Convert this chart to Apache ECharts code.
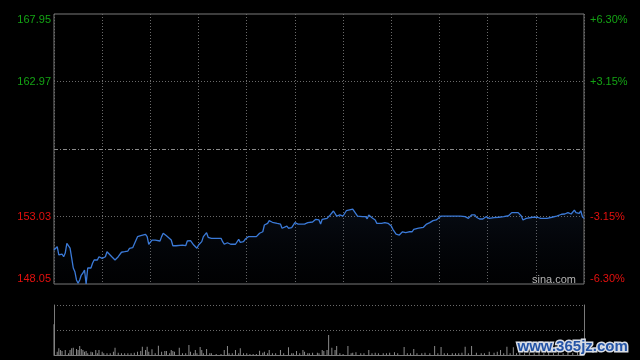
<!DOCTYPE html>
<html>
<head>
<meta charset="utf-8">
<script src="https://cdn.jsdelivr.net/npm/echarts@6/dist/echarts.min.js"></script>
<style>
html,body{margin:0;padding:0;background:#000;}
#c{width:640px;height:360px;}
</style>
</head>
<body>
<div id="c"></div>
<script>
// ---- data (minutes from open, price) ----
const times = [0,2,3,4,5,6,7,8,9,10,11,12,13,14,15,16,17,18,19,20,21,22,23,24,25,26,27,28,30,32,33,34,36,38,39,40,42,44,46,47,49,50,52,54,55,57,58,59,61,63,64,66,67,68,70,71,73,74,76,80,82,83,85,86,87,89,90,92,93,95,96,98,104,105,106,108,110,113,114,115,116,118,119,121,126,128,130,131,133,134,136,139,141,142,143,145,146,148,149,150,152,156,158,161,163,165,166,167,170,172,174,175,176,178,180,182,183,186,187,189,192,194,195,196,198,200,201,204,206,208,210,211,213,215,216,217,219,221,223,224,227,230,232,234,236,238,239,241,245,246,249,253,256,258,260,262,263,265,267,269,270,271,274,277,280,283,285,289,291,292,294,295,298,301,303,304,307,310,313,316,318,320,322,324,325,327,328,329,330];
const prices = [150.56,150.80,150.19,150.06,150.26,150.06,150.33,151.05,150.92,150.70,149.97,149.23,148.96,148.35,148.10,148.35,148.71,148.86,149.08,148.06,149.23,149.33,149.23,149.58,149.82,149.69,149.82,150.06,149.94,150.06,150.43,150.43,150.06,149.82,149.69,150.06,150.39,150.43,150.48,150.68,150.73,150.80,151.54,151.61,151.61,151.71,151.54,150.98,151.29,151.29,151.42,151.22,151.54,151.79,151.61,151.71,151.29,150.87,150.87,150.92,150.87,151.22,151.24,151.24,150.92,150.68,150.92,151.17,151.54,151.83,151.49,151.42,151.42,151.17,150.98,151.09,150.98,150.98,151.09,151.34,151.12,151.17,151.34,151.54,151.54,151.79,151.90,152.40,152.52,152.72,152.60,152.52,152.47,152.16,152.08,152.32,152.16,152.20,152.16,152.57,152.47,152.47,152.57,152.62,152.82,152.77,152.47,152.82,152.89,153.14,153.43,153.31,153.06,153.14,153.06,153.45,153.56,153.56,153.50,153.06,153.01,153.01,152.86,153.14,152.94,152.77,152.52,152.52,152.57,152.52,152.32,152.08,151.73,151.66,151.54,151.90,151.83,151.90,151.90,152.08,152.16,152.23,152.47,152.57,152.72,152.77,152.89,153.06,153.06,152.97,153.06,153.06,153.01,152.89,153.14,153.14,152.97,152.84,152.84,153.01,153.06,152.89,152.94,152.97,153.01,153.08,153.31,153.31,153.06,152.77,152.89,153.01,152.97,152.97,152.89,152.77,152.89,152.97,153.06,153.19,153.21,153.31,153.21,153.50,153.31,153.26,153.45,153.01,152.89];
const volTimes = [0,2,3,4,5,7,9,10,11,12,14,15,16,17,18,19,20,21,23,24,26,27,28,30,31,33,35,37,38,40,42,44,46,48,50,52,54,55,57,58,59,61,63,65,67,69,70,72,73,74,75,78,80,82,84,85,87,88,89,91,92,93,95,97,98,101,104,106,108,109,111,113,115,116,118,120,122,124,126,128,130,131,133,134,136,138,141,143,146,148,149,151,153,155,156,158,159,161,164,165,167,168,170,171,173,175,176,178,180,183,185,186,188,191,193,196,198,200,202,205,207,209,212,214,218,220,222,224,226,229,231,234,237,239,241,243,245,248,250,252,254,256,258,260,263,266,268,271,274,276,278,280,282,284,286,288,290,293,296,299,302,305,308,311,314,317,320,323,326,328,330];
const volValues = [92,10,20,15,12,15,5,15,20,22,18,15,27,18,15,10,12,5,10,8,15,5,15,10,5,5,5,10,22,7,5,5,5,5,7,10,12,25,15,25,10,17,5,28,10,12,12,5,15,12,10,22,5,5,30,10,5,15,5,24,15,5,18,5,5,3,3,15,27,5,5,15,5,20,5,5,3,3,3,13,7,10,5,15,5,5,15,5,23,5,5,12,5,15,10,5,5,7,7,5,15,12,15,60,22,15,27,5,3,27,5,7,8,5,5,15,5,7,5,5,5,7,8,5,24,5,5,18,5,5,7,5,27,5,24,5,5,5,5,5,7,25,5,27,7,5,5,10,7,10,15,5,25,5,23,5,7,5,10,5,12,5,8,5,15,5,10,7,12,20,15];
const priceMin = 148.05, priceMax = 167.95, prevClose = 158.00;
const priceLabels = ['148.05','153.03','','162.97','167.95'];
const pctLabels = ['-6.30%','-3.15%','','+3.15%','+6.30%'];
const labelColors = ['#e4100e','#e4100e','#888','#14a314','#14a314'];

const lineData = times.map((t, i) => [t, prices[i]]);
const volData = volTimes.map((t, i) => [t, volValues[i]]);

const chart = echarts.init(document.getElementById('c'), null, {renderer: 'canvas'});
const dotted = {color: '#6a6a6a', width: 1, type: [1, 2]};
chart.setOption({
  backgroundColor: '#000',
  animation: false,
  grid: [
    {left: 54, top: 14, width: 530, height: 270, show: true, borderColor: '#7a7a7a', borderWidth: 1},
    {left: 54, top: 305, width: 530, height: 50}
  ],
  xAxis: [
    {gridIndex: 0, type: 'value', min: 0, max: 330, interval: 30,
     axisLabel: {show: false}, axisTick: {show: false}, axisLine: {show: false},
     splitLine: {show: true, lineStyle: dotted}},
    {gridIndex: 1, type: 'value', min: 0, max: 330, interval: 30,
     axisLabel: {show: false}, axisTick: {show: false},
     axisLine: {show: true, lineStyle: {color: '#7a7a7a', width: 1}},
     splitLine: {show: false}}
  ],
  yAxis: [
    {gridIndex: 0, type: 'value', min: priceMin, max: priceMax, show: false},
    {gridIndex: 0, type: 'value', position: 'left', min: -6.3, max: 6.3, interval: 3.15,
     axisLine: {show: false}, axisTick: {show: false},
     axisLabel: {show: true, margin: 3, fontFamily: 'Liberation Sans, Arial, sans-serif', fontSize: 11,
       formatter: (v, i) => priceLabels[i],
       color: (v, i) => labelColors[i],
       verticalAlignMinLabel: 'bottom', verticalAlignMaxLabel: 'top'},
     splitLine: {show: true, lineStyle: {color: ['transparent','#6a6a6a','transparent','#6a6a6a','transparent'], width: 1, type: [1, 2]}}},
    {gridIndex: 0, type: 'value', position: 'right', min: -6.3, max: 6.3, interval: 3.15,
     axisLine: {show: false}, axisTick: {show: false},
     axisLabel: {show: true, margin: 6, fontFamily: 'Liberation Sans, Arial, sans-serif', fontSize: 11,
       formatter: (v, i) => pctLabels[i],
       color: (v, i) => labelColors[i],
       verticalAlignMinLabel: 'bottom', verticalAlignMaxLabel: 'top'},
     splitLine: {show: false}},
    {gridIndex: 1, type: 'value', min: 0, max: 150, interval: 75, position: 'left',
     axisLabel: {show: false}, axisTick: {show: false},
     axisLine: {show: true, lineStyle: {color: '#7a7a7a', width: 1}},
     splitLine: {show: true, lineStyle: {color: ['transparent','#6a6a6a','#6a6a6a'], width: 1, type: [1, 2]}}},
    {gridIndex: 1, type: 'value', min: 0, max: 150, position: 'right',
     axisLabel: {show: false}, axisTick: {show: false},
     axisLine: {show: true, lineStyle: {color: '#7a7a7a', width: 1}},
     splitLine: {show: false}}
  ],
  series: [
    {type: 'line', xAxisIndex: 0, yAxisIndex: 0, data: lineData, symbol: 'none', smooth: false,
     lineStyle: {color: '#3b7ad8', width: 1.3},
     areaStyle: {origin: 'start', color: new echarts.graphic.LinearGradient(0, 0, 0, 1, [
       {offset: 0, color: 'rgba(40,65,110,0.25)'}, {offset: 1, color: 'rgba(10,20,40,0.08)'}])},
     markLine: {silent: true, symbol: 'none', label: {show: false},
       lineStyle: {color: '#8a8a8a', width: 1, type: [4, 2, 1, 2]},
       data: [{yAxis: prevClose}]},
     z: 3},
    {type: 'bar', xAxisIndex: 1, yAxisIndex: 3, data: volData, barWidth: 1,
     itemStyle: {color: '#8a8a8a'}, z: 2}
  ],
  graphic: [
    {type: 'text', left: 532, top: 274, style: {text: 'sina.com', fill: '#b5b5b5',
      font: '11px "Liberation Sans", Arial, sans-serif'}, z: 10},
    {type: 'text', left: 516, top: 338, style: {text: 'www.365jz.com', fill: '#2454a6',
      stroke: '#d8dde6', lineWidth: 3, font: 'bold 15px "Liberation Sans", Arial, sans-serif'}, z: 10}
  ]
});
</script>
</body>
</html>
